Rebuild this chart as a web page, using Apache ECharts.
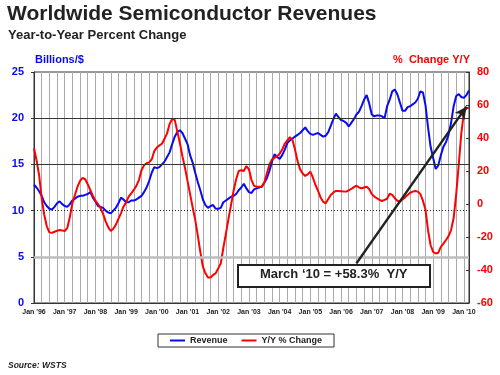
<!DOCTYPE html>
<html>
<head>
<meta charset="utf-8">
<script src="https://cdn.jsdelivr.net/npm/echarts@6/dist/echarts.min.js"></script>
<style>
  html, body { margin: 0; padding: 0; background: #fff; }
  #chart { width: 500px; height: 375px; }
</style>
</head>
<body>
<div id="chart"></div>
<script>
// month axis: Jan '96 .. Mar '10
const years = ['96', '97', '98', '99', '00', '01', '02', '03', '04', '05', '06', '07', '08', '09', '10']
const months = ['Jan', 'Feb', 'Mar', 'Apr', 'May', 'Jun', 'Jul', 'Aug', 'Sep', 'Oct', 'Nov', 'Dec']
const lastMonthCount = 3

// Revenue, billions of $ (left axis)
const revenue = [
  12.8, 12.5, 12.1, 11.6, 10.9, 10.5, 10.2, 10.1, 10.4, 10.8, 11.0, 10.7,
  10.5, 10.4, 10.7, 11.1, 11.3, 11.5, 11.6, 11.6, 11.7, 11.8, 12.0, 11.4,
  11.0, 10.5, 10.4, 10.3, 10.0, 9.8, 9.7, 10.0, 10.3, 10.8, 11.4, 11.2,
  10.9, 10.9, 11.1, 11.1, 11.2, 11.4, 11.6, 12.0, 12.5, 13.2, 14.1, 14.7,
  14.6, 14.7, 15.0, 15.3, 15.8, 16.3, 17.2, 18.0, 18.5, 18.7, 18.4, 17.8,
  17.2, 16.0, 15.2, 14.1, 13.1, 12.2, 11.2, 10.6, 10.3, 10.5, 10.6, 10.2,
  10.2, 10.3, 10.9, 11.1, 11.3, 11.5, 11.6, 11.8, 12.2, 12.5, 12.9, 12.4,
  12.0, 11.9, 12.3, 12.4, 12.5, 12.6, 13.0, 13.5, 14.3, 15.3, 16.1, 15.8,
  15.6, 16.0, 16.6, 17.3, 17.6, 17.8, 18.0, 18.2, 18.4, 18.7, 19.0, 18.6,
  18.3, 18.2, 18.3, 18.4, 18.2, 18.0, 18.1, 18.5, 19.2, 19.9, 20.5, 20.1,
  19.8, 19.7, 19.5, 19.1, 19.5, 19.9, 20.4, 20.7, 21.3, 22.0, 22.5, 21.6,
  20.4, 20.2, 20.3, 20.3, 20.2, 20.0, 21.3, 22.0, 22.9, 23.1, 22.6, 21.7,
  20.8, 20.8, 21.2, 21.3, 21.5, 21.7, 22.1, 22.9, 22.8, 21.4, 19.0, 16.9,
  15.7, 14.5, 14.9, 16.0, 16.9, 17.4, 18.2, 19.5, 21.3, 22.4, 22.6, 22.3,
  22.2, 22.5, 23.0
]

// Year-to-year % change (right axis)
const yoyChange = [
  33.8, 26.5, 17.5, 3.5, -6.5, -13.5, -17.2, -17.5, -16.8, -16.2, -15.8, -16.0,
  -16.4, -14.5, -8.0, 0.5, 5.5, 10.5, 14.0, 15.8, 15.0, 12.0, 8.5, 5.0,
  2.0, 0.0, -2.5, -6.0, -10.5, -14.0, -16.4, -15.0, -12.5, -9.0, -5.5, -1.5,
  1.0, 4.5, 6.5, 8.5, 11.0, 14.5, 20.5, 23.5, 24.7, 25.2, 27.0, 32.0,
  34.2, 35.5, 36.5, 39.5, 42.8, 48.5, 51.5, 51.0, 44.0, 37.0, 29.0, 22.0,
  14.0, 6.0, -2.0, -9.5, -19.0, -29.0, -38.0, -42.0, -44.5, -44.5, -43.0, -42.0,
  -39.0, -36.0, -26.5, -18.0, -9.0, -0.6, 8.0, 15.0, 20.0, 20.5, 20.0, 23.0,
  21.0, 14.5, 11.0, 10.5, 10.5, 10.5, 13.0, 18.5, 24.0, 27.0, 28.0, 29.0,
  30.5, 33.0, 36.5, 38.5, 40.5, 39.0, 33.0, 26.0, 21.0, 18.5, 17.0, 18.0,
  19.6, 16.0, 11.5, 8.0, 4.0, 1.4, 0.4, 3.0, 5.5, 7.0, 7.9, 7.9,
  7.8, 7.6, 7.5, 8.3, 9.1, 10.2, 11.1, 10.0, 9.5, 10.0, 10.5, 9.1,
  6.0, 4.5, 3.5, 2.5, 1.8, 2.5, 3.2, 6.2, 5.5, 3.5, 2.0, 1.4,
  2.8, 4.0, 5.5, 6.8, 7.5, 7.9, 7.5, 6.0, 2.0, -3.5, -16.0, -25.0,
  -29.0, -30.0, -29.5, -26.0, -24.0, -21.8, -19.5, -15.8, -8.5, 6.0, 24.0, 43.0,
  55.5, 58.0, 58.3
]

const leftTicks = [0, 5, 10, 15, 20, 25]
const rightTicks = [-60, -40, -20, 0, 20, 40, 60, 80]

const categories = []
years.forEach((y, yi) => {
  const n = yi === years.length - 1 ? lastMonthCount : 12
  for (let m = 0; m < n; m++) {
    categories.push(months[m] + " '" + y)
  }
})

const font = "'Liberation Sans', Arial, sans-serif"
const blue = '#0a0aee'
const red = '#ff0000'

const chart = echarts.init(document.getElementById('chart'), null, { renderer: 'canvas' })
chart.setOption({
  animation: false,
  textStyle: { fontFamily: font },
  title: [
    {
      text: 'Worldwide Semiconductor Revenues',
      left: 7, top: 4, padding: 0,
      textStyle: { fontSize: 21, fontWeight: 'bold', color: '#222', fontFamily: font }
    },
    {
      text: 'Year-to-Year Percent Change',
      left: 8, top: 29, padding: 0,
      textStyle: { fontSize: 13, fontWeight: 'bold', color: '#222', fontFamily: font }
    }
  ],
  legend: {
    left: 158,
    top: 334,
    padding: [2, 12, 2, 12],
    itemGap: 14,
    itemWidth: 15,
    itemHeight: 2,
    icon: 'rect',
    borderColor: '#333',
    borderWidth: 1,
    backgroundColor: '#fff',
    textStyle: { fontSize: 9, fontWeight: 'bold', color: '#222', fontFamily: font },
    data: ['Revenue', 'Y/Y % Change']
  },
  grid: {
    left: 34,
    right: 31,
    top: 72,
    bottom: 72,
    show: true,
    borderColor: '#333',
    borderWidth: 1
  },
  xAxis: {
    type: 'category',
    data: categories,
    boundaryGap: false,
    axisLine: { lineStyle: { color: '#333' } },
    axisTick: { show: false },
    axisLabel: {
      interval: 11,
      fontSize: 7,
      fontWeight: 'bold',
      color: '#222',
      margin: 6
    },
    splitLine: {
      show: true,
      interval: 2,
      lineStyle: { color: '#aaaaaa', width: 1 }
    }
  },
  yAxis: [
    {
      type: 'value',
      position: 'left',
      min: leftTicks[0],
      max: leftTicks[leftTicks.length - 1],
      interval: 5,
      axisLine: { show: true, lineStyle: { color: '#333' } },
      axisTick: { show: true, length: 3, lineStyle: { color: '#333' } },
      axisLabel: { fontSize: 11, fontWeight: 'bold', color: blue, margin: 10 },
      splitLine: { show: false }
    },
    {
      type: 'value',
      position: 'right',
      min: rightTicks[0],
      max: rightTicks[rightTicks.length - 1],
      interval: 20,
      axisLine: { show: true, lineStyle: { color: '#333' } },
      axisTick: { show: true, inside: true, length: 3, lineStyle: { color: '#333' } },
      axisLabel: { fontSize: 11, fontWeight: 'bold', color: red, margin: 8 },
      splitLine: { show: false }
    }
  ],
  series: [
    {
      name: 'Revenue',
      type: 'line',
      yAxisIndex: 0,
      data: revenue,
      showSymbol: false,
      symbol: 'none',
      color: blue,
      lineStyle: { color: blue, width: 2 },
      z: 3,
      markLine: {
        silent: true,
        symbol: 'none',
        label: { show: false },
        data: [
          { yAxis: 5, lineStyle: { color: '#bdbdbd', width: 2.5, type: 'solid' } },
          { yAxis: 10, lineStyle: { color: '#222', width: 1, type: [1, 2] } },
          { yAxis: 15, lineStyle: { color: '#333', width: 1, type: 'solid' } },
          { yAxis: 20, lineStyle: { color: '#333', width: 1, type: 'solid' } }
        ]
      }
    },
    {
      name: 'Y/Y % Change',
      type: 'line',
      yAxisIndex: 1,
      data: yoyChange,
      showSymbol: false,
      symbol: 'none',
      color: red,
      lineStyle: { color: red, width: 2 },
      z: 4,
      markLine: {
        silent: true,
        symbol: ['none', 'arrow'],
        symbolSize: [9, 12],
        label: { show: false },
        lineStyle: { color: '#222', width: 2.5, type: 'solid' },
        data: [
          [
            { coord: [categories[126], -36] },
            { coord: [categories[169], 59] }
          ]
        ]
      }
    }
  ],
  graphic: [
    {
      type: 'text', left: 35, top: 54,
      style: { text: 'Billions/$', fill: blue, font: 'bold 11px ' + font }
    },
    {
      type: 'text', right: 30, top: 54,
      style: { text: '%  Change Y/Y', fill: red, font: 'bold 11px ' + font }
    },
    {
      type: 'rect', left: 237, top: 264, z: 100,
      shape: { x: 0, y: 0, width: 192, height: 22 },
      style: { fill: '#fff', stroke: '#222', lineWidth: 2 }
    },
    {
      type: 'text', left: 260, top: 268, z: 101,
      style: {
        text: 'March \u201810 = +58.3%  Y/Y',
        fill: '#222',
        font: 'bold 13px ' + font
      }
    },
    {
      type: 'text', left: 8, top: 361,
      style: { text: 'Source: WSTS', fill: '#222', font: 'italic bold 8.5px ' + font }
    }
  ]
})
</script>
</body>
</html>
